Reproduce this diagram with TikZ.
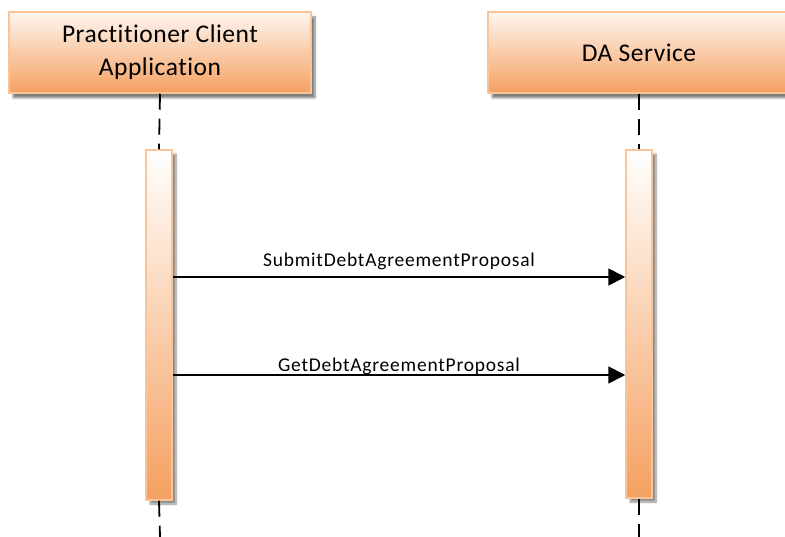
\documentclass[tikz,border=0pt]{standalone}
\usepackage{fontspec}
\setmainfont{Carlito}[Ligatures=NoCommon]
\newfontfamily\hdfont{Carlito}[Ligatures=NoCommon, LetterSpace=2]
\newfontfamily\msgfont{Carlito}[Ligatures=NoCommon, LetterSpace=4]
\usetikzlibrary{arrows.meta,shadows.blur}
\definecolor{hdtop}{RGB}{254,246,240}
\definecolor{hdbot}{RGB}{245,160,96}
\definecolor{hdline}{RGB}{250,196,152}
\tikzset{
	header/.style={draw=hdline, line width=1.5pt, top color=hdtop, bottom color=hdbot,
		minimum width=302, minimum height=81, align=center, font=\hdfont\fontsize{25.5}{33}\selectfont,
		blur shadow={shadow xshift=4pt, shadow yshift=-5pt, shadow blur steps=8, shadow opacity=50}},
	actbar/.style={draw=hdline, line width=1.5pt, top color=white, bottom color=hdbot,
		minimum width=26, inner sep=0pt,
		blur shadow={shadow xshift=4pt, shadow yshift=-4pt, shadow blur steps=8, shadow opacity=45}},
	lifeline/.style={line width=1.8pt, dash pattern=on 16pt off 9pt},
	msg/.style={line width=1.8pt, -{Triangle[length=17pt,width=17pt]}},
	msglabel/.style={anchor=base, inner sep=0pt, font=\msgfont\fontsize{19.5}{23}\selectfont}
}
\begin{document}
\begin{tikzpicture}[x=1pt,y=-1pt]
				\useasboundingbox (0,0) rectangle (785,537);
				
				\node[header] (pca) at (160,52.5) {Practitioner Client\\Application};
				\node[header] (da) at (639,52.5) {DA Service};
				
				\node[actbar, minimum height=350] (pcabar) at (159,325) {};
				\node[actbar, minimum height=348] (dabar) at (639,324) {};
				
				\coordinate (pcaend) at (160,537);
				\coordinate (daend) at (639,537);
				
				\draw[lifeline] (pca.south) -- (pcabar.north);
				\draw[lifeline] (pcabar.south) -- (pcaend);
				\draw[lifeline] (da.south) -- (dabar.north);
				\draw[lifeline] (dabar.south) -- (daend);
				
				\draw[msg] (pcabar.east |- 0,277) -- (dabar.west |- 0,277)
					node[msglabel, pos=0.5, yshift=10pt] (submit) {SubmitDebtAgreementProposal};
				\draw[msg] (pcabar.east |- 0,375) -- (dabar.west |- 0,375)
					node[msglabel, pos=0.5, yshift=3.5pt] (get) {GetDebtAgreementProposal};
			\end{tikzpicture}
\end{document}
